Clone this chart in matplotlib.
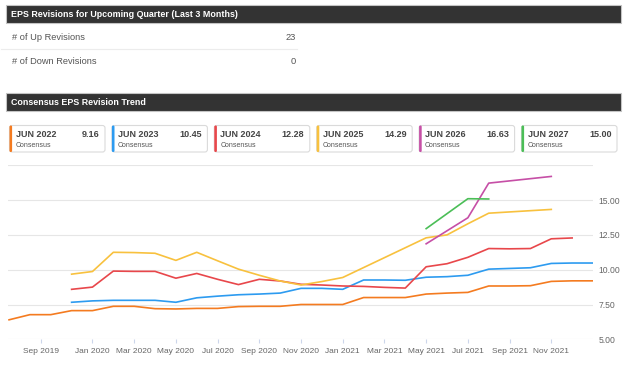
import matplotlib
matplotlib.use('Agg')
import matplotlib.pyplot as plt
from matplotlib.patches import Rectangle, FancyBboxPatch

# month index: 0 = Jan 2020 (the axis is ordinal, one step per revision point)
jun2022_pos = [-4, -3, -2, -1, 0, 1, 2, 3, 4, 5, 6, 7, 8, 9, 10, 11, 12, 13, 14, 15, 16, 17, 18, 19, 20, 21, 22, 23, 24]
jun2022_eps = [6.40, 6.77, 6.77, 7.06, 7.06, 7.37, 7.37, 7.20, 7.18, 7.22, 7.22, 7.35, 7.37, 7.37, 7.50, 7.50, 7.50,
               8.00, 8.00, 8.00, 8.25, 8.32, 8.37, 8.83, 8.83, 8.85, 9.16, 9.20, 9.20]

jun2023_pos = [-1, 0, 1, 2, 3, 4, 5, 6, 7, 8, 9, 10, 11, 12, 13, 14, 15, 16, 17, 18, 19, 20, 21, 22, 23, 24]
jun2023_eps = [7.66, 7.76, 7.80, 7.80, 7.80, 7.66, 7.98, 8.10, 8.20, 8.25, 8.32, 8.66, 8.66, 8.59, 9.26, 9.26, 9.24,
               9.46, 9.50, 9.60, 10.04, 10.09, 10.14, 10.45, 10.48, 10.48]

jun2024_pos = [-1, 0, 1, 2, 3, 4, 5, 6, 7, 8, 9, 10, 11, 12, 13, 14, 15, 16, 17, 18, 19, 20, 21, 22, 23]
jun2024_eps = [8.59, 8.75, 9.90, 9.88, 9.88, 9.39, 9.73, 9.31, 8.93, 9.31, 9.19, 8.95, 8.90, 8.83, 8.80, 8.73, 8.68,
               10.21, 10.43, 10.89, 11.52, 11.50, 11.52, 12.22, 12.28]

jun2025_pos = [-1, 0, 1, 2, 3, 4, 5, 6, 7, 8, 9, 10, 11, 12, 16, 17, 18, 19, 22]
jun2025_eps = [9.68, 9.87, 11.25, 11.23, 11.18, 10.67, 11.25, 10.64, 10.04, 9.60, 9.19, 8.90, 9.15, 9.44,
               12.29, 12.50, 13.30, 14.06, 14.33]

jun2026_pos = [16, 18, 19, 22]
jun2026_eps = [11.86, 13.73, 16.22, 16.70]

jun2027_pos = [16, 18, 19]
jun2027_eps = [12.95, 15.10, 15.08]

card_names = ['JUN 2022', 'JUN 2023', 'JUN 2024', 'JUN 2025', 'JUN 2026', 'JUN 2027']
card_values = ['9.16', '10.45', '12.28', '14.29', '16.63', '15.00']
colors = ['#F47B20', '#2D9BF0', '#E8474B', '#F8C13E', '#C64FA6', '#4BBE57']

x_tick_pos = [-2.47, 0, 2, 4, 6, 8, 10, 12, 14, 16, 18, 20, 22]
x_tick_labels = ['Sep 2019', 'Jan 2020', 'Mar 2020', 'May 2020', 'Jul 2020', 'Sep 2020', 'Nov 2020',
                 'Jan 2021', 'Mar 2021', 'May 2021', 'Jul 2021', 'Sep 2021', 'Nov 2021']
y_ticks = [5.0, 7.5, 10.0, 12.5, 15.0, 17.5]

up_revisions = 23
down_revisions = 0

W, H = 640, 370
narrow = ['Liberation Sans Narrow', 'Liberation Sans', 'DejaVu Sans']
plt.rcParams['font.family'] = ['Liberation Sans', 'DejaVu Sans']

fig = plt.figure(figsize=(6.4, 3.7), dpi=100)
fig.patch.set_facecolor('white')

# overlay in pixel coords for the header bars / cards
ov = fig.add_axes([0, 0, 1, 1])
ov.set_xlim(0, W)
ov.set_ylim(H, 0)
ov.axis('off')

def header(y0, y1, txt):
    ov.add_patch(Rectangle((6, y0), 615, y1 - y0, facecolor='#333333', edgecolor='#c4c4c4', lw=0.8))
    ov.text(11, (y0 + y1) / 2 + 0.5, txt, color='white', fontsize=6.4, fontweight='bold',
            family=narrow, va='center', ha='left')

header(5, 22.7, 'EPS Revisions for Upcoming Quarter (Last 3 Months)')
header(92.5, 111, 'Consensus EPS Revision Trend')

ov.text(12, 37.7, '# of Up Revisions', color='#555555', fontsize=6.7, family=narrow, va='center')
ov.text(296, 37.7, str(up_revisions), color='#555555', fontsize=6.7, family=narrow, va='center', ha='right')
ov.plot([1, 297], [49.3, 49.3], color='#ececec', lw=0.8)
ov.text(12, 61, '# of Down Revisions', color='#555555', fontsize=6.7, family=narrow, va='center')
ov.text(296, 61, str(down_revisions), color='#555555', fontsize=6.7, family=narrow, va='center', ha='right')

for i, (nm, val) in enumerate(zip(card_names, card_values)):
    x0 = 9.5 + i * 102.4
    ov.add_patch(FancyBboxPatch((x0, 125.5), 95.5, 26.5, boxstyle='round,pad=0,rounding_size=2.5',
                                facecolor='white', edgecolor='#dadada', lw=0.8))
    ov.add_patch(FancyBboxPatch((x0, 125.5), 2.6, 26.5, boxstyle='round,pad=0,rounding_size=1.2',
                                facecolor=colors[i], edgecolor='none'))
    ov.text(x0 + 6, 134.3, nm, color='#444444', fontsize=6.5, fontweight='bold', family=narrow, va='center')
    ov.text(x0 + 90, 134.3, val, color='#444444', fontsize=6.5, fontweight='bold', family=narrow,
            va='center', ha='right')
    ov.text(x0 + 6, 145.8, 'Consensus', color='#555555', fontsize=5.0, va='center')

# chart
top_px, bot_px, left_px, right_px = 165.3, 339.3, 8, 593
ax = fig.add_axes([left_px / W, 1 - bot_px / H, (right_px - left_px) / W, (bot_px - top_px) / H])
series = [(jun2022_pos, jun2022_eps), (jun2023_pos, jun2023_eps), (jun2024_pos, jun2024_eps),
          (jun2025_pos, jun2025_eps), (jun2026_pos, jun2026_eps), (jun2027_pos, jun2027_eps)]
for (xs, ys), c in zip(series, colors):
    ax.plot(xs, ys, color=c, lw=1.2, solid_joinstyle='round')

ax.set_xlim(-4.05, 24)
ax.set_ylim(5, 17.5)
for s in ax.spines.values():
    s.set_visible(False)
ax.set_yticks(y_ticks)
ax.set_yticklabels(['%.2f' % v if v < 17 else '' for v in y_ticks])
ax.yaxis.tick_right()
ax.tick_params(axis='y', length=0, pad=4, labelsize=6.2, labelcolor='#666666')
ax.grid(axis='y', color='#e6e6e6', lw=0.8)
ax.set_xticks(x_tick_pos)
ax.set_xticklabels(x_tick_labels)
ax.tick_params(axis='x', length=3, width=0.8, color='#ccd6eb', pad=3, labelsize=6.0, labelcolor='#666666')
ax.set_axisbelow(True)
ax.patch.set_alpha(0)

fig.savefig('out.png', dpi=100)
